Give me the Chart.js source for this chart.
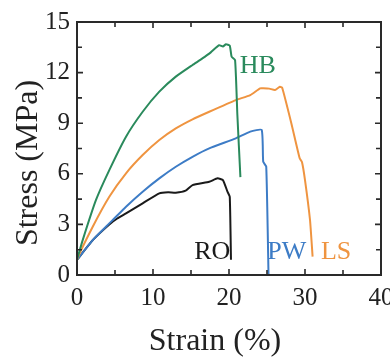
<!DOCTYPE html>
<html><head><meta charset="utf-8">
<script src="https://cdn.jsdelivr.net/npm/chart.js@4"></script>
<style>html,body{margin:0;padding:0;background:#fff;}#wrap{width:390px;height:358px;}</style>
</head><body><div id="wrap"><canvas id="c" width="390" height="358"></canvas></div>
<script>
const xTickValues = [0, 10, 20, 30, 40];
const yTickValues = [0, 3, 6, 9, 12, 15];
const xTitle = 'Strain (%)';
const yTitle = 'Stress (MPa)';

const strainHB = [0, 0.75, 2.5, 4.25, 6.45, 8.64, 10.83, 13.0, 15.2, 16.5, 17.6, 18.7, 19.2, 19.6, 20.1, 20.35, 20.8, 21.1, 21.5];
const stressHB = [0.9, 2.07, 4.45, 6.22, 8.2, 9.68, 10.87, 11.76, 12.45, 12.84, 13.2, 13.63, 13.55, 13.68, 13.6, 12.94, 12.74, 9.5, 5.8];

const strainLS = [0, 0, 2.07, 4.25, 6.45, 8.64, 10.83, 13.0, 15.2, 17.4, 20.9, 22.8, 24.1, 24.5, 25.3, 26.05, 26.7, 27.0, 28.2, 29.3, 29.6, 30.0, 30.66, 31.0];
const stressLS = [0.05, 0.9, 2.86, 4.64, 6.03, 7.11, 8.0, 8.69, 9.23, 9.68, 10.37, 10.67, 11.07, 11.07, 11.05, 10.97, 11.16, 11.1, 9.0, 6.92, 6.7, 5.63, 3.26, 1.09];

const strainPW = [0, 2.07, 4.25, 6.45, 8.64, 10.83, 13.0, 15.2, 17.4, 20.9, 22.8, 24.3, 24.5, 24.9, 25.2];
const stressPW = [0.9, 2.07, 3.06, 4.05, 4.94, 5.73, 6.42, 7.01, 7.51, 8.1, 8.5, 8.6, 6.72, 6.42, 0];

const strainRO = [0, 2.07, 4.25, 5.3, 6.45, 8.64, 10.83, 12.0, 13.0, 14.3, 15.2, 17.4, 18.5, 19.2, 19.8, 20.1, 20.26];
const stressRO = [0.9, 2.07, 3.0, 3.35, 3.65, 4.25, 4.84, 4.9, 4.88, 5.0, 5.33, 5.53, 5.73, 5.63, 4.94, 4.64, 0.9];

const seriesNames = ['HB', 'LS', 'PW', 'RO'];
const seriesColors = ['#2a8a5c', '#ef9440', '#3d7cc6', '#1a1a1a'];
// label anchor points in data units (strain, stress)
const labelStrain = [23.8, 34.1, 27.6, 17.8];
const labelStress = [12.4, 1.36, 1.36, 1.36];

const SERIF = '"Liberation Serif", "Times New Roman", Times, serif';

function pts(xs, ys) { return xs.map((x, i) => ({ x: x, y: ys[i] })); }
const strains = [strainHB, strainLS, strainPW, strainRO];
const stresses = [stressHB, stressLS, stressPW, stressRO];

function draw() {
  const datasets = seriesNames.map((n, i) => ({
    label: n,
    data: pts(strains[i], stresses[i]),
    borderColor: seriesColors[i],
    backgroundColor: seriesColors[i],
    borderWidth: 2,
    pointRadius: 0,
    tension: 0.15,
    fill: false
  }));

  const frame = {
    id: 'frame',
    afterDraw(chart) {
      const ctx = chart.ctx, a = chart.chartArea;
      const xs = chart.scales.x, ys = chart.scales.y;
      ctx.save();
      ctx.strokeStyle = '#2a2a2a';
      ctx.lineWidth = 2;
      ctx.strokeRect(a.left, a.top, a.right - a.left, a.bottom - a.top);
      ctx.lineWidth = 1.6;
      ctx.beginPath();
      for (let v = 0; v <= 40; v += 5) {
        const p = xs.getPixelForValue(v);
        const len = v % 10 === 0 ? 6 : 5;
        ctx.moveTo(p, a.bottom); ctx.lineTo(p, a.bottom - len);
        ctx.moveTo(p, a.top); ctx.lineTo(p, a.top + len);
      }
      for (let k = 0; k <= 10; k++) {
        const v = k * 1.5;
        const p = ys.getPixelForValue(v);
        const len = k % 2 === 0 ? 6 : 5;
        ctx.moveTo(a.left, p); ctx.lineTo(a.left + len, p);
        ctx.moveTo(a.right, p); ctx.lineTo(a.right - len, p);
      }
      ctx.stroke();
      ctx.font = '26px ' + SERIF;
      ctx.textAlign = 'center';
      ctx.textBaseline = 'middle';
      seriesNames.forEach((n, i) => {
        ctx.fillStyle = seriesColors[i];
        ctx.fillText(n, xs.getPixelForValue(labelStrain[i]), ys.getPixelForValue(labelStress[i]));
      });
      // axis titles
      ctx.fillStyle = '#222';
      ctx.font = '32px ' + SERIF;
      ctx.textBaseline = 'alphabetic';
      ctx.fillText(xTitle, 215, 350);
      ctx.translate(37, 163);
      ctx.rotate(-Math.PI / 2);
      ctx.fillText(yTitle, 0, 0);
      ctx.restore();
    }
  };

  new Chart(document.getElementById('c'), {
    type: 'line',
    data: { datasets: datasets },
    options: {
      responsive: false,
      devicePixelRatio: 1,
      animation: false,
      layout: { padding: { top: 22, right: 9, left: 0, bottom: 0 } },
      plugins: { legend: { display: false }, tooltip: { enabled: false } },
      scales: {
        x: {
          type: 'linear', min: 0, max: 40,
          afterBuildTicks(s) { s.ticks = xTickValues.map(v => ({ value: v })); },
          afterFit(s) { s.height = 83; s.paddingLeft = 0; s.paddingRight = 0; },
          grid: { display: false, drawTicks: false },
          border: { display: false },
          ticks: { color: '#222', padding: 8, maxRotation: 0, font: { family: SERIF, size: 25 } },
          title: { display: false }
        },
        y: {
          type: 'linear', min: 0, max: 15,
          afterBuildTicks(s) { s.ticks = yTickValues.map(v => ({ value: v })); },
          afterFit(s) { s.width = 77; s.paddingTop = 0; s.paddingBottom = 0; },
          grid: { display: false, drawTicks: false },
          border: { display: false },
          ticks: { color: '#222', padding: 7, font: { family: SERIF, size: 25 } },
          title: { display: false }
        }
      }
    },
    plugins: [frame]
  });
}

if (document.fonts && document.fonts.load) {
  Promise.all([
    document.fonts.load('25px "Liberation Serif"'),
    document.fonts.load('32px "Liberation Serif"')
  ]).then(draw, draw);
} else { draw(); }
</script>
</body></html>
